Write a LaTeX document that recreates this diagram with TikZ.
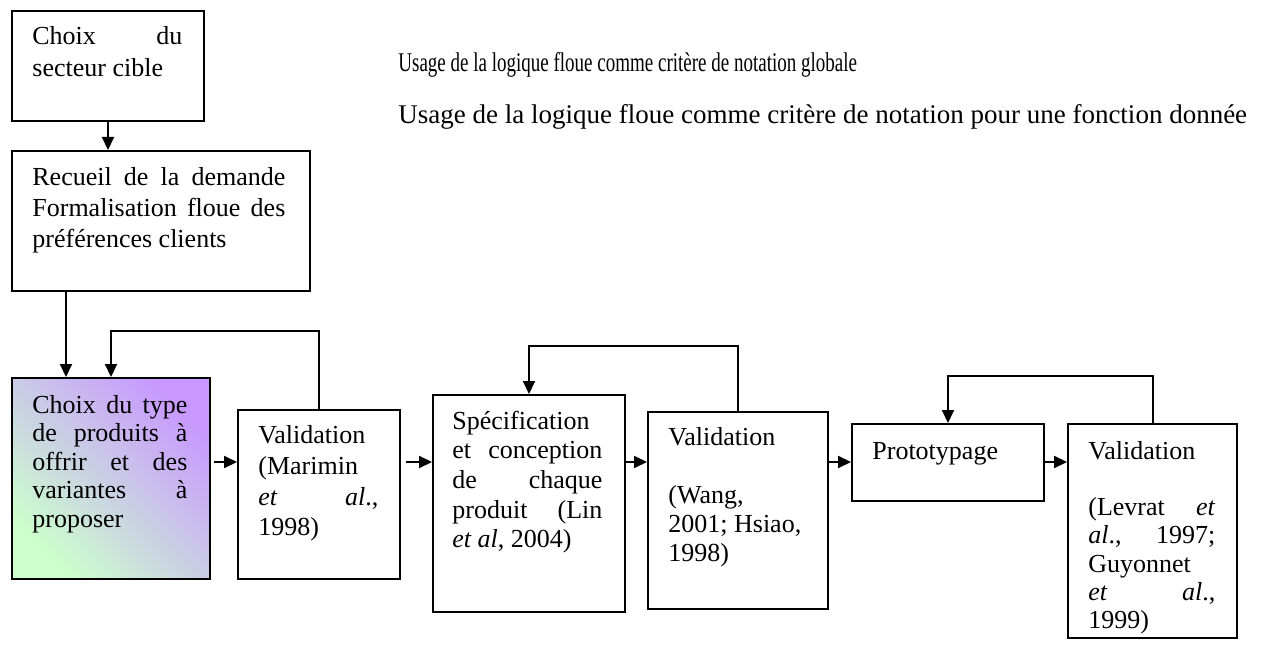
\documentclass[tikz,border=0pt]{standalone}
\usepackage{fontspec}
\setmainfont{Liberation Serif}
\usepackage{graphicx}
\usetikzlibrary{arrows.meta,calc}
\hyphenpenalty=10000
\exhyphenpenalty=10000
\hbadness=10000
\definecolor{gradgreen}{RGB}{204,255,204}
\definecolor{gradpurple}{RGB}{200,152,255}
\begin{document}
\begin{tikzpicture}[x=0.5pt,y=-0.5pt,
  box/.style={draw=black, line width=1pt, rectangle, inner sep=0pt, anchor=north west},
  txt/.style={inner sep=0pt, anchor=base west, align=justify, font=\fontsize{13pt}{#1}\selectfont},
  arr/.style={line width=1pt, -{Triangle[length=6.5pt,width=6pt]}},
  toptxt/.style={inner sep=0pt, anchor=base west, font=\fontsize{13.5pt}{16pt}\selectfont}]
\useasboundingbox (0,0) rectangle (1265,647);
\fill[white] (0,0) rectangle (1265,647);

% boxes
\node[box, minimum width=96pt, minimum height=55pt] (b1) at (11,10) {};
\node[box, minimum width=149pt, minimum height=70pt] (b2) at (11,150) {};
\node[box, minimum width=99pt, minimum height=100.5pt,
      bottom color=gradgreen, top color=gradpurple, shading angle=-45] (b3) at (11,377) {};
\node[box, minimum width=81pt, minimum height=84.5pt] (v1) at (237,409) {};
\node[box, minimum width=96pt, minimum height=108.5pt] (spec) at (432,394) {};
\node[box, minimum width=90pt, minimum height=98.5pt] (v2) at (647,411) {};
\node[box, minimum width=96pt, minimum height=38.5pt] (proto) at (851,423) {};
\node[box, minimum width=84.5pt, minimum height=107pt] (v3) at (1067,423) {};

% texts
\node[txt=15.75pt, text width=75pt] (t1) at (32,45) {Choix du\linebreak secteur cible};
\node[txt=15.75pt, text width=126.5pt] (t2) at (32,185) {Recueil de la demande\linebreak Formalisation floue des\linebreak préférences clients};
\node[txt=14.25pt, text width=77.5pt] (t3) at (32,413) {Choix du type\linebreak de produits à\linebreak offrir et des\linebreak variantes à\linebreak proposer};
\node[txt=15.5pt, text width=60pt] (tv1) at (258,443) {Validation\newline (Marimin\newline \textit{et} \textit{al}.,\linebreak 1998)};
\node[txt=14.85pt, text width=75pt] (tspec) at (452,429) {Spécification\newline et conception\linebreak de chaque\linebreak produit (Lin\linebreak \textit{et al}, 2004)};
\node[txt=14.5pt, text width=69.5pt] (tv2) at (668,445) {Validation\par\strut\par (Wang,\newline 2001; Hsiao,\newline 1998)};
\node[txt=14.5pt, text width=90pt] (tproto) at (872,459) {Prototypage};
\node[txt=14.15pt, text width=63.5pt] (tv3) at (1088,459) {Validation\par\strut\par (Levrat \textit{et}\linebreak \textit{al}., 1997;\linebreak Guyonnet\newline \textit{et} \textit{al}.,\linebreak 1999)};

\node[toptxt] (u1) at (398,72) {\scalebox{0.704}[1]{Usage de la logique floue comme critère de notation globale}};
\node[toptxt] (u2) at (398,124) {Usage de la logique floue comme critère de notation pour une fonction donnée};

% connectors
\coordinate (r1) at (0,462);
\draw[arr] (b1.south) -- (b1.south |- b2.north);
\draw[arr] ([xshift=27.5pt]b2.south west) -- ([xshift=27.5pt]b2.south west |- b3.north);
\draw[arr] (v1.north) -- ++(0,-78) -| (b3.north);
\draw[arr] ([xshift=1.5pt]b3.east |- r1) -- (v1.west |- r1);
\draw[arr] ([xshift=2.5pt]v1.east |- r1) -- (spec.west |- r1);
\draw[arr] (spec.east |- r1) -- (v2.west |- r1);
\draw[arr] (v2.north) -- ++(0,-65) -| (spec.north);
\draw[arr] (v2.east |- r1) -- (proto.west |- r1);
\draw[arr] (proto.east |- r1) -- (v3.west |- r1);
\draw[arr] (v3.north) -- ++(0,-47) -| (proto.north);
\end{tikzpicture}
\end{document}
